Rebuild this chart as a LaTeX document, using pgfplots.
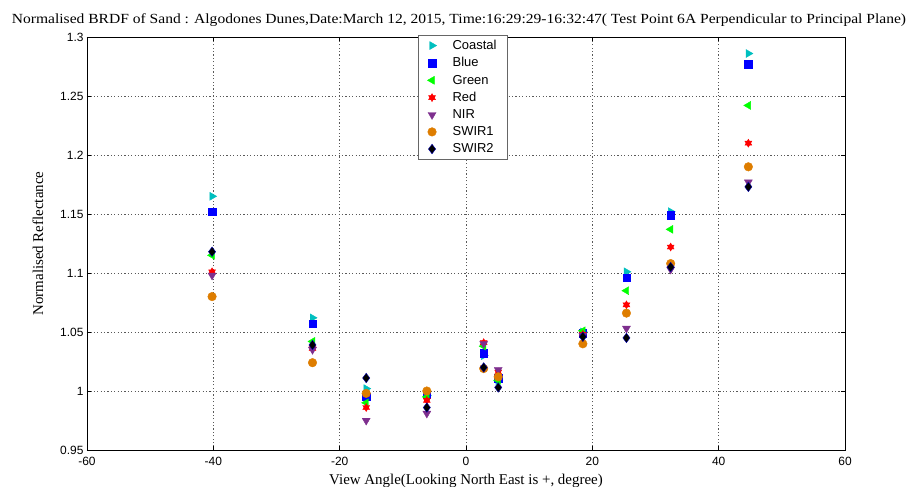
\documentclass[border=0pt]{standalone}
\usepackage{fontspec}
\setmainfont{Liberation Serif}
\setsansfont{Liberation Sans}
\usepackage{pgfplots}
\pgfplotsset{compat=1.18}

% filled six-pointed star
\pgfdeclareplotmark{hexagram}{%
  \pgfpathmoveto{\pgfqpointpolar{90}{\pgfplotmarksize}}%
  \pgfpathlineto{\pgfqpointpolar{210}{\pgfplotmarksize}}%
  \pgfpathlineto{\pgfqpointpolar{330}{\pgfplotmarksize}}%
  \pgfpathclose
  \pgfpathmoveto{\pgfqpointpolar{270}{\pgfplotmarksize}}%
  \pgfpathlineto{\pgfqpointpolar{30}{\pgfplotmarksize}}%
  \pgfpathlineto{\pgfqpointpolar{150}{\pgfplotmarksize}}%
  \pgfpathclose
  \pgfusepathqfillstroke
}

\definecolor{coastal}{RGB}{0,191,191}
\definecolor{blueb}{RGB}{0,0,255}
\definecolor{greenb}{RGB}{0,255,0}
\definecolor{redb}{RGB}{255,0,0}
\definecolor{nir}{RGB}{126,47,142}
\definecolor{swirone}{RGB}{222,125,0}

\begin{document}
\begin{tikzpicture}
\begin{axis}[
  at={(0,0)}, anchor=south west,
  scale only axis, width=758bp, height=413bp,
  xmin=-60, xmax=60, ymin=0.95, ymax=1.3,
  xtick={-60,-40,...,60},
  ytick={0.95,1,1.05,1.1,1.15,1.2,1.25,1.3},
  yticklabels={0.95,1,1.05,1.1,1.15,1.2,1.25,1.3},
  tick align=inside, major tick length=4bp,
  tick style={black, line width=0.5pt},
  axis line style={black, line width=0.6pt},
  grid=major,
  major grid style={black!65, line width=0.5pt, dash pattern=on 1.2bp off 2.2bp},
  ticklabel style={font=\sffamily\fontsize{12}{12}\selectfont},
  xticklabel style={yshift=-4bp},
  /pgf/number format/assume math mode=true,
  xlabel={View Angle(Looking North East is +, degree)},
  ylabel={Normalised Reflectance},
  label style={font=\fontsize{15}{15}\selectfont},
  xlabel style={yshift=-1bp},
  ylabel style={yshift=10bp},
  title={\scalebox{1.115}[1]{Normalised BRDF of Sand : Algodones Dunes,Date:March 12, 2015, Time:16:29:29-16:32:47( Test Point 6A Perpendicular to Principal Plane)}},
  title style={font=\fontsize{14}{14}\selectfont, yshift=1bp, xshift=-7bp},
  legend image code/.code={\draw[#1] plot coordinates {(0bp,0bp)};},
  legend style={at={(0.437,1.005)}, anchor=north west, draw=black!60,
    font=\sffamily\fontsize{13}{13}\selectfont, row sep=2.6bp,
    inner xsep=9bp, inner ysep=3bp,
    /tikz/every odd column/.append style={column sep=14bp}},
  legend cell align=left,
  only marks,
]
\addplot[mark=triangle*, color=coastal, mark size=4.6bp, mark options={rotate=-90}] coordinates {
  (-40.2,1.165) (-24.3,1.062) (-15.8,1.002) (-6.2,0.996) (2.8,1.030)
  (5.1,1.009) (18.5,1.050) (25.4,1.101) (32.4,1.152) (44.7,1.286)};
\addlegendentry{Coastal}
\addplot[mark=square*, color=blueb, mark size=3.7bp] coordinates {
  (-40.2,1.152) (-24.3,1.057) (-15.8,0.995) (-6.2,0.997) (2.8,1.032)
  (5.1,1.011) (18.5,1.049) (25.4,1.096) (32.4,1.149) (44.7,1.277)};
\addlegendentry{Blue}
\addplot[mark=triangle*, color=greenb, mark size=4.6bp, mark options={rotate=90}] coordinates {
  (-40.2,1.115) (-24.3,1.042) (-15.8,0.990) (-6.2,0.995) (2.8,1.038)
  (5.1,1.009) (18.5,1.051) (25.4,1.085) (32.4,1.137) (44.7,1.242)};
\addlegendentry{Green}
\addplot[mark=hexagram, color=redb, mark size=4bp] coordinates {
  (-40.2,1.101) (-24.3,1.036) (-15.8,0.986) (-6.2,0.992) (2.8,1.041)
  (5.1,1.016) (18.5,1.048) (25.4,1.073) (32.4,1.122) (44.7,1.210)};
\addlegendentry{Red}
\addplot[mark=triangle*, color=nir, mark size=4.6bp, mark options={rotate=180}] coordinates {
  (-40.2,1.098) (-24.3,1.035) (-15.8,0.975) (-6.2,0.981) (2.8,1.040)
  (5.1,1.018) (18.5,1.047) (25.4,1.053) (32.4,1.103) (44.7,1.177)};
\addlegendentry{NIR}
\addplot[mark=*, color=swirone, mark size=4.3bp] coordinates {
  (-40.2,1.080) (-24.3,1.024) (-15.8,0.998) (-6.2,1.000) (2.8,1.019)
  (5.1,1.012) (18.5,1.040) (25.4,1.066) (32.4,1.108) (44.7,1.190)};
\addlegendentry{SWIR1}
\addplot[mark=diamond*, color=black, mark size=4.8bp, mark options={fill=black, draw=blue!70!black}] coordinates {
  (-40.2,1.118) (-24.3,1.039) (-15.8,1.011) (-6.2,0.986) (2.8,1.020)
  (5.1,1.003) (18.5,1.046) (25.4,1.045) (32.4,1.105) (44.7,1.173)};
\addlegendentry{SWIR2}
\end{axis}
\pgfresetboundingbox
\path[use as bounding box] (-87bp,-37bp) rectangle (830bp,450bp);
\end{tikzpicture}
\end{document}
